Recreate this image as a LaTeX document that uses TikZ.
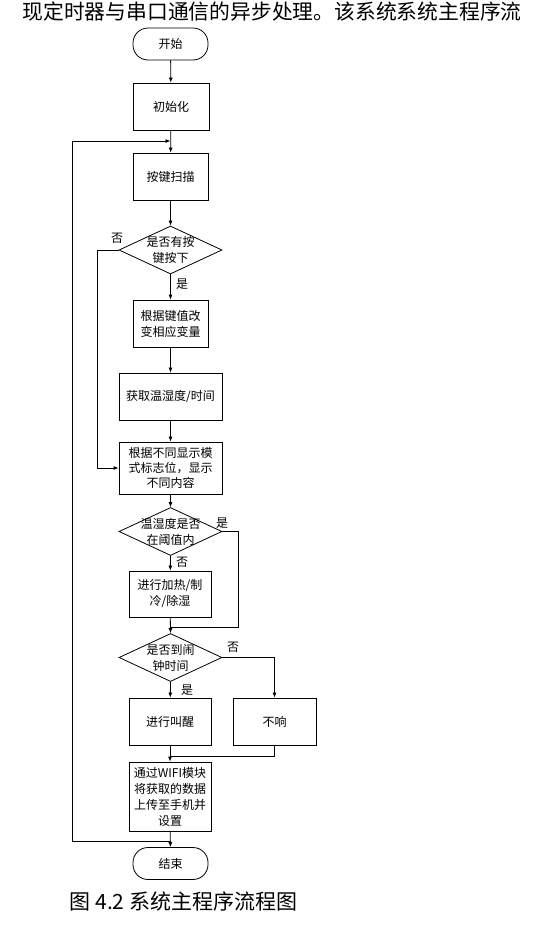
\documentclass[tikz,border=0pt]{standalone}
\usepackage{fontspec}
\setmainfont{Noto Sans CJK SC}
\usetikzlibrary{arrows.meta,shapes.geometric}
\begin{document}
\begin{tikzpicture}[x=1pt,y=-1pt,
  every node/.style={font=\fontsize{12}{16}\selectfont},
  line/.style={draw=black,line width=0.8pt},
  arr/.style={line,-{Latex[length=5pt,width=4pt]}},
  procbox/.style={draw=black,line width=0.8pt,rectangle,inner sep=0pt,align=center,fill=white},
  termbox/.style={draw=black,line width=0.8pt,rectangle,rounded corners=15pt,inner sep=0pt,minimum width=75pt,minimum height=32pt},
  decbox/.style={draw=black,line width=0.8pt,diamond,inner sep=0pt,minimum width=103pt,minimum height=48pt},
  lbl/.style={inner sep=0pt}
]
\useasboundingbox (0,0) rectangle (540,929);
\fill[white] (0,0) rectangle (540,929);

\node[lbl,font=\fontsize{20.8}{24}\selectfont] (toptext) at (272,12) {现定时器与串口通信的异步处理。该系统系统主程序流};

\node[termbox] (start) at (170.5,44) {开始};
\node[procbox,minimum width=76pt,minimum height=47pt] (init) at (171,106.5) {初始化};
\node[procbox,minimum width=75pt,minimum height=47pt] (scan) at (170.5,176.5) {按键扫描};
\node[decbox,label={[align=center,font=\fontsize{12}{16}\selectfont]center:是否有按\\键按下}] (d1) at (170.5,250) {};
\node[procbox,minimum width=75pt,minimum height=47pt] (b1) at (170.5,323.5) {根据键值改\\变相应变量};
\node[procbox,minimum width=103pt,minimum height=47pt] (b2) at (170.5,396.5) {获取温湿度/时间};
\node[procbox,minimum width=103pt,minimum height=52pt,font=\fontsize{12}{15}\selectfont] (b3) at (170.5,468) {根据不同显示模\\式标志位，显示\\不同内容};
\node[decbox,label={[align=center,font=\fontsize{12}{16}\selectfont]center:温湿度是否\\在阈值内}] (d2) at (170.5,531.5) {};
\node[procbox,minimum width=82pt,minimum height=46pt] (heat) at (170,594) {进行加热/制\\冷/除湿};
\node[decbox,label={[align=center,font=\fontsize{12}{16}\selectfont]center:是否到闹\\钟时间}] (d3) at (170.5,657.5) {};
\node[procbox,minimum width=82pt,minimum height=47pt] (wake) at (170,721.5) {进行叫醒};
\node[procbox,minimum width=83pt,minimum height=47pt] (nor) at (274.5,721.5) {不响};
\node[procbox,minimum width=82pt,minimum height=69pt] (wifi) at (170,796.5) {通过WIFI模块\\将获取的数据\\上传至手机并\\设置};
\node[termbox] (end) at (170.5,863.5) {结束};

\node[lbl,font=\fontsize{21}{24}\selectfont] (cap) at (183.5,901) {图 4.2 系统主程序流程图};

% labels
\node[lbl] (l1) at (117,238) {否};
\node[lbl] (l2) at (182,284) {是};
\node[lbl] (l3) at (222,523) {是};
\node[lbl] (l4) at (182,562) {否};
\node[lbl] (l5) at (233,647) {否};
\node[lbl] (l6) at (187,690) {是};

% coordinates
\coordinate (j1) at (170.5,141);
\coordinate (j2) at (170.5,841);
\coordinate (j3) at (170.5,627);
\coordinate (j4) at (170.5,756);
\coordinate (lp) at (72,841);
\coordinate (lq) at (72,141);
\coordinate (n1) at (97,250);
\coordinate (r2) at (238,531.5);
\coordinate (r2b) at (238,627);

% connectors
\draw[arr] (start) -- (init);
\draw[arr] (init) -- (scan);
\draw[arr] (lp) -- (lq) -- (j1);
\draw[line] (j2) -- (lp);
\draw[arr] (scan) -- (d1);
\draw[arr] (d1.south) -- (b1);
\draw[arr] (d1.west) -- (n1) |- (b3.west);
\draw[arr] (b1) -- (b2);
\draw[arr] (b2) -- (b3);
\draw[arr] (b3) -- (d2.north);
\draw[arr] (d2.south) -- (heat);
\draw[line] (d2.east) -- (r2) -- (r2b) -- (j3);
\draw[arr] (heat) -- (d3.north);
\draw[arr] (d3.south) -- (wake);
\draw[arr] (d3.east) -| (nor.north);
\draw[line] (nor.south) |- (j4);
\draw[arr] (wake) -- (wifi);
\draw[arr] (wifi) -- (end);
\end{tikzpicture}
\end{document}
